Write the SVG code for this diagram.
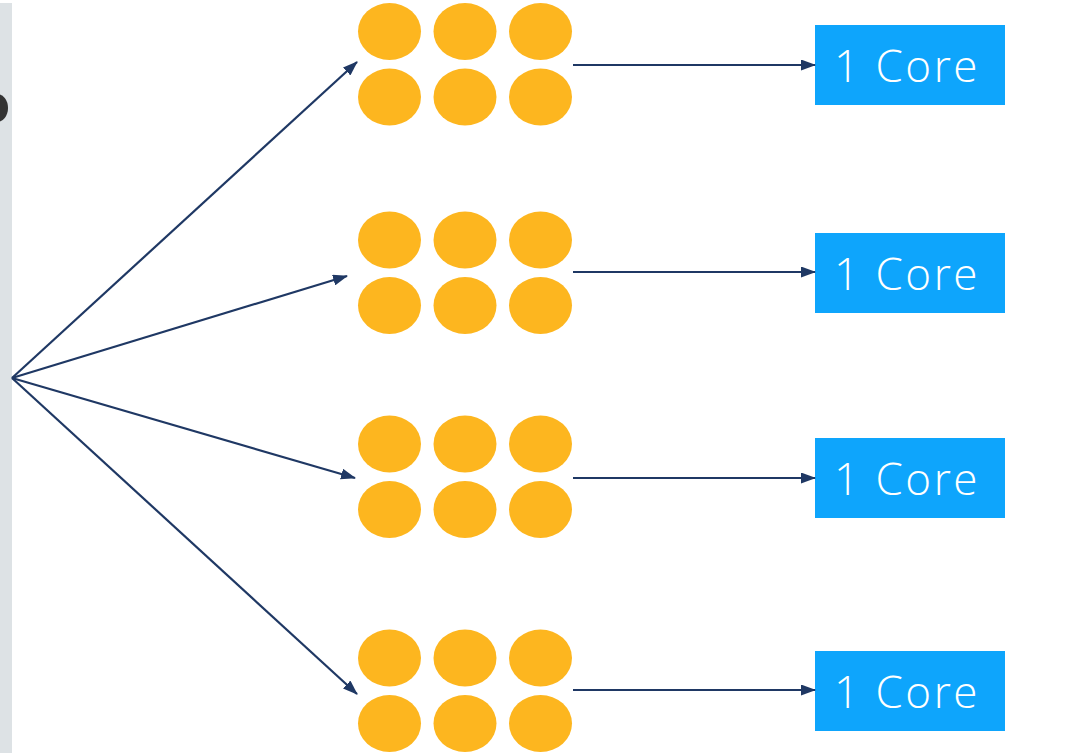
<svg xmlns="http://www.w3.org/2000/svg" width="1074" height="753" viewBox="0 0 1074 753">
<defs>
<style>
.dot{fill:#fdb61f}
.box{fill:#0ea5fc}
.lbl{fill:#fff;font-family:"Open Sans","Liberation Sans",sans-serif;font-size:44px;font-weight:300;letter-spacing:2.5px}
.con{stroke:#1f3864;stroke-width:2.2;fill:none;marker-end:url(#ah)}
</style>
<marker id="ah" viewBox="0 0 15 11" refX="14" refY="5.5" markerWidth="15" markerHeight="11" markerUnits="userSpaceOnUse" orient="auto">
<path d="M0,0 L15,5.5 L0,11 z" fill="#1f3864"/>
</marker>
<g id="cluster">
<ellipse class="dot" cx="389.5" cy="0" rx="31.5" ry="28.5"/>
<ellipse class="dot" cx="465" cy="0" rx="31.5" ry="28.5"/>
<ellipse class="dot" cx="540.5" cy="0" rx="31.5" ry="28.5"/>
<ellipse class="dot" cx="389.5" cy="65.5" rx="31.5" ry="28.5"/>
<ellipse class="dot" cx="465" cy="65.5" rx="31.5" ry="28.5"/>
<ellipse class="dot" cx="540.5" cy="65.5" rx="31.5" ry="28.5"/>
</g>
</defs>
<rect width="1074" height="753" fill="#fff"/>
<rect x="0" y="3" width="12" height="750" fill="#dde2e5"/>
<ellipse cx="-3" cy="108" rx="11" ry="14" fill="#333"/>
<g id="group1"><use href="#cluster" y="31.5"/></g>
<g id="group2"><use href="#cluster" y="240"/></g>
<g id="group3"><use href="#cluster" y="444"/></g>
<g id="group4"><use href="#cluster" y="658"/></g>
<g id="core1"><rect class="box" x="815" y="25" width="190" height="80"/><text class="lbl" x="834" y="82">1 Core</text></g>
<g id="core2"><rect class="box" x="815" y="233" width="190" height="80"/><text class="lbl" x="834" y="290">1 Core</text></g>
<g id="core3"><rect class="box" x="815" y="438" width="190" height="80"/><text class="lbl" x="834" y="495">1 Core</text></g>
<g id="core4"><rect class="box" x="815" y="651" width="190" height="80"/><text class="lbl" x="834" y="708">1 Core</text></g>
<g id="connectors">
<line class="con" x1="12" y1="378" x2="357" y2="62"/>
<line class="con" x1="12" y1="378" x2="347" y2="276"/>
<line class="con" x1="12" y1="378" x2="355" y2="478"/>
<line class="con" x1="12" y1="378" x2="357" y2="694"/>
<line class="con" x1="573" y1="65" x2="815" y2="65"/>
<line class="con" x1="573" y1="272" x2="815" y2="272"/>
<line class="con" x1="573" y1="478" x2="815" y2="478"/>
<line class="con" x1="573" y1="690" x2="815" y2="690"/>
</g>
</svg>
